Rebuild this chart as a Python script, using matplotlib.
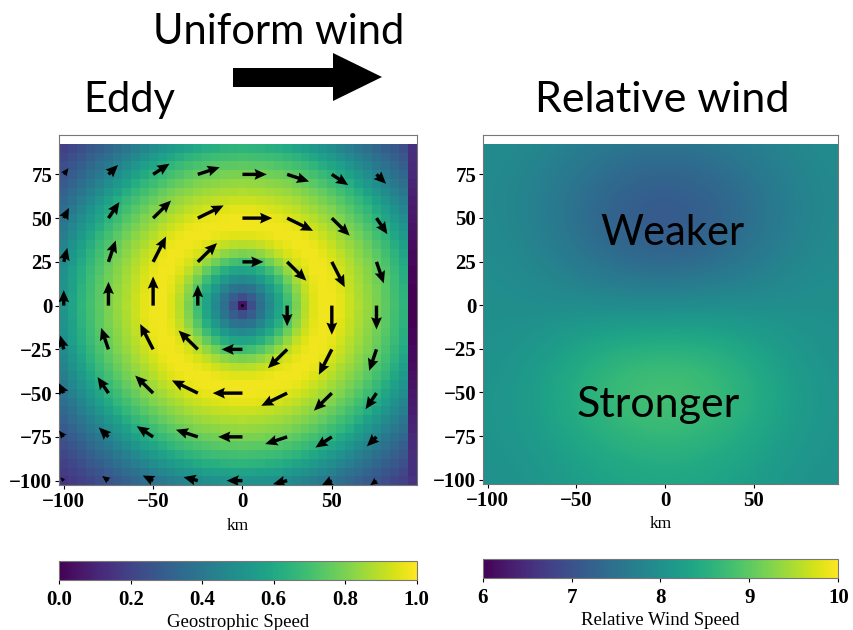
import numpy as np
import matplotlib
matplotlib.use('Agg')
import matplotlib.pyplot as plt
from matplotlib.patches import Polygon, Rectangle

plt.rcParams['font.family'] = 'serif'
plt.rcParams['font.serif'] = ['Liberation Serif', 'DejaVu Serif']

# eddy: geostrophic speed vs distance from centre
radius_km = [0, 5, 10, 15, 20, 25, 30, 35, 40, 45, 50, 55, 60, 65, 70,
             75, 80, 85, 90, 95, 100, 110, 120, 130, 140, 150]
geo_speed = [0.05, 0.24, 0.36, 0.47, 0.58, 0.69, 0.80, 0.89, 0.95, 0.98, 0.98,
             0.96, 0.92, 0.88, 0.84, 0.80, 0.75, 0.70, 0.65, 0.58, 0.52,
             0.40, 0.30, 0.22, 0.16, 0.12]

# odd dark column on the right edge (x = 95 km), top to bottom
right_column = [0.14, 0.13, 0.12, 0.11, 0.10, 0.09, 0.08, 0.07, 0.06, 0.05,
                0.04, 0.03, 0.02, 0.02, 0.01, 0.01, 0.00, 0.00, 0.00, 0.00,
                0.00, 0.01, 0.01, 0.02, 0.02, 0.03, 0.04, 0.05, 0.06, 0.07,
                0.08, 0.09, 0.10, 0.11, 0.12, 0.13, 0.14, 0.14, 0.15]

# quiver points
arrow_x = [-100, -75, -50, -25, 0, 25, 50, 75]
arrow_y = [-100, -75, -50, -25, 0, 25, 50, 75]

# relative wind speed on a coarse 25 km grid
rel_x = [-100, -75, -50, -25, 0, 25, 50, 75, 100]
rel_y = [100, 75, 50, 25, 0, -25, -50, -75, -100]
rel_speed = [
    [7.95, 7.90, 7.80, 7.70, 7.65, 7.70, 7.80, 7.90, 7.95],
    [7.90, 7.80, 7.55, 7.35, 7.25, 7.35, 7.55, 7.80, 7.90],
    [7.90, 7.75, 7.45, 7.15, 7.05, 7.15, 7.45, 7.75, 7.90],
    [7.95, 7.85, 7.60, 7.40, 7.30, 7.40, 7.60, 7.85, 7.95],
    [8.00, 7.95, 7.95, 7.90, 7.90, 7.95, 7.95, 8.00, 8.00],
    [8.00, 8.10, 8.35, 8.55, 8.60, 8.55, 8.35, 8.10, 8.00],
    [8.05, 8.20, 8.55, 8.80, 8.90, 8.80, 8.55, 8.20, 8.05],
    [8.05, 8.15, 8.40, 8.60, 8.70, 8.60, 8.40, 8.15, 8.05],
    [8.00, 8.05, 8.20, 8.30, 8.35, 8.30, 8.20, 8.05, 8.00],
]

W, H = 854, 630
fig = plt.figure(figsize=(W / 100, H / 100), dpi=100)


def box(l, t, r, b):
    return [l / W, 1 - b / H, (r - l) / W, (b - t) / H]


def px(x, y):
    return (x / W, 1 - y / H)


ax1 = fig.add_axes(box(59.3, 135, 416.7, 485))
ax2 = fig.add_axes(box(483.3, 135, 838.3, 484))
cax1 = fig.add_axes(box(59.3, 560.7, 416.7, 580))
cax2 = fig.add_axes(box(482.7, 559.3, 838.3, 578.3))

# left panel: eddy speed + arrows
xe = np.arange(-102.5, 98, 5)
ye = np.arange(-102.5, 93, 5)
xc = (xe[:-1] + xe[1:]) / 2
yc = (ye[:-1] + ye[1:]) / 2
XX, YY = np.meshgrid(xc, yc)
S = np.interp(np.hypot(XX, YY), radius_km, geo_speed)
S[:, -1] = right_column[::-1]
pm = ax1.pcolormesh(xe, ye, S, cmap='viridis', vmin=0, vmax=1)

QX, QY = np.meshgrid(arrow_x, arrow_y)
R = np.hypot(QX, QY)
sp = np.interp(R, radius_km, geo_speed)
Rs = np.where(R > 0, R, 1)
u = np.where(R > 0, sp * QY / Rs, 0)
v = np.where(R > 0, -sp * QX / Rs, 0)
ax1.quiver(QX, QY, u, v, pivot='tail', angles='xy', scale_units='xy',
           scale=1 / 17, width=0.0095, headwidth=3.2, headlength=3.6,
           headaxislength=3.2, color='k', zorder=3)

# right panel: relative wind
im = ax2.imshow(rel_speed, extent=(-112.5, 112.5, -112.5, 112.5), origin='upper',
                cmap='viridis', vmin=6, vmax=10, interpolation='bicubic', aspect='auto')
im.set_clip_path(Rectangle((-102.5, -102.5), 200, 195, transform=ax2.transData))

for ax in (ax1, ax2):
    ax.set_xlim(-102.5, 97.5)
    ax.set_ylim(-102.5, 97.5)
    ax.set_xticks([-100, -50, 0, 50])
    ax.set_yticks([-100, -75, -50, -25, 0, 25, 50, 75])
    ax.tick_params(labelsize=15, length=3, pad=2)
    for lab in ax.get_xticklabels() + ax.get_yticklabels():
        lab.set_fontweight('bold')
    ax.set_xlabel('km', fontsize=12.5, labelpad=4)
    for s in ax.spines.values():
        s.set_edgecolor('#777777')

cb1 = fig.colorbar(pm, cax=cax1, orientation='horizontal', ticks=[0, 0.2, 0.4, 0.6, 0.8, 1.0])
cb1.set_label('Geostrophic Speed', fontsize=13.5, labelpad=3)
cb2 = fig.colorbar(im, cax=cax2, orientation='horizontal', ticks=[6, 7, 8, 9, 10])
cb2.set_label('Relative Wind Speed', fontsize=13.5, labelpad=3)
for cb in (cb1, cb2):
    cb.outline.set_edgecolor('#777777')
    cb.ax.tick_params(labelsize=15, length=3, pad=4)
    for lab in cb.ax.get_xticklabels():
        lab.set_fontweight('bold')

# slide annotations
fig.text(*px(153, 44), 'Uniform wind', family='Lato', fontsize=30, va='baseline')
fig.text(*px(83, 112), 'Eddy', family='Lato', fontsize=30, va='baseline')
fig.text(*px(535, 112), 'Relative wind', family='Lato', fontsize=31, va='baseline')
fig.text(*px(600, 245), 'Weaker', family='Lato', fontsize=30, va='baseline')
fig.text(*px(577, 417), 'Stronger', family='Lato', fontsize=31, va='baseline')

arrow_pts = [(233, 68), (333, 68), (333, 53), (382, 77), (333, 101), (333, 87), (233, 87)]
fig.add_artist(Polygon([px(x, y) for x, y in arrow_pts], closed=True,
                       transform=fig.transFigure, facecolor='black', edgecolor='none'))

fig.savefig('out.png', dpi=100)
